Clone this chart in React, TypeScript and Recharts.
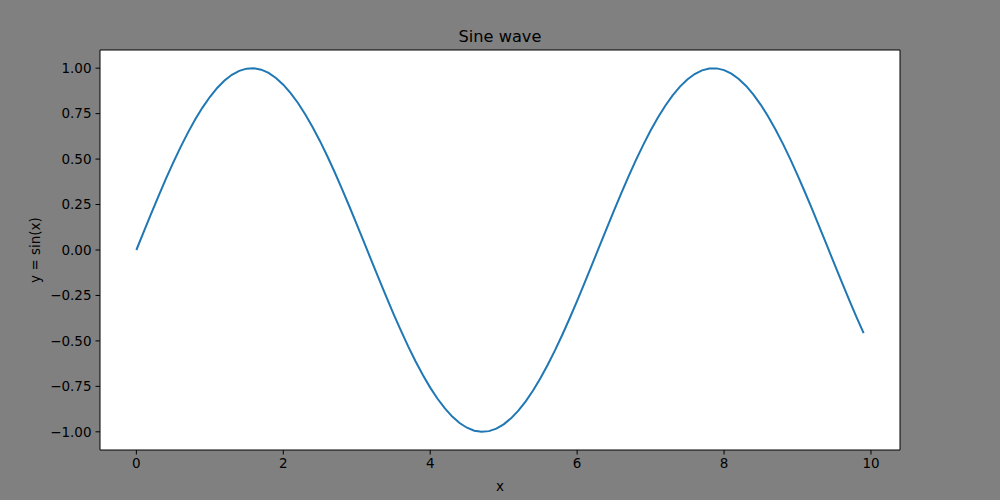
import React from 'react';
import { LineChart, Line, XAxis, YAxis, CartesianGrid, Label, ReferenceLine } from 'recharts';

const xValues: number[] = [
  0.0, 0.1, 0.2, 0.3, 0.4, 0.5, 0.6, 0.7, 0.8, 0.9,
  1.0, 1.1, 1.2, 1.3, 1.4, 1.5, 1.6, 1.7, 1.8, 1.9,
  2.0, 2.1, 2.2, 2.3, 2.4, 2.5, 2.6, 2.7, 2.8, 2.9,
  3.0, 3.1, 3.2, 3.3, 3.4, 3.5, 3.6, 3.7, 3.8, 3.9,
  4.0, 4.1, 4.2, 4.3, 4.4, 4.5, 4.6, 4.7, 4.8, 4.9,
  5.0, 5.1, 5.2, 5.3, 5.4, 5.5, 5.6, 5.7, 5.8, 5.9,
  6.0, 6.1, 6.2, 6.3, 6.4, 6.5, 6.6, 6.7, 6.8, 6.9,
  7.0, 7.1, 7.2, 7.3, 7.4, 7.5, 7.6, 7.7, 7.8, 7.9,
  8.0, 8.1, 8.2, 8.3, 8.4, 8.5, 8.6, 8.7, 8.8, 8.9,
  9.0, 9.1, 9.2, 9.3, 9.4, 9.5, 9.6, 9.7, 9.8, 9.9,
];

const yValues: number[] = [
  0.0, 0.0998, 0.1987, 0.2955, 0.3894, 0.4794, 0.5646, 0.6442, 0.7174, 0.7833,
  0.8415, 0.8912, 0.932, 0.9636, 0.9854, 0.9975, 0.9996, 0.9917, 0.9738, 0.9463,
  0.9093, 0.8632, 0.8085, 0.7457, 0.6755, 0.5985, 0.5155, 0.4274, 0.335, 0.2392,
  0.1411, 0.0416, -0.0584, -0.1577, -0.2555, -0.3508, -0.4425, -0.5298, -0.6119, -0.6878,
  -0.7568, -0.8183, -0.8716, -0.9162, -0.9516, -0.9775, -0.9937, -0.9999, -0.9962, -0.9825,
  -0.9589, -0.9258, -0.8835, -0.8323, -0.7728, -0.7055, -0.6313, -0.5507, -0.4646, -0.3739,
  -0.2794, -0.1822, -0.0831, 0.0168, 0.1165, 0.2151, 0.3115, 0.4048, 0.4941, 0.5784,
  0.657, 0.729, 0.7937, 0.8504, 0.8987, 0.938, 0.9679, 0.9882, 0.9985, 0.9989,
  0.9894, 0.9699, 0.9407, 0.9022, 0.8546, 0.7985, 0.7344, 0.663, 0.5849, 0.501,
  0.4121, 0.3191, 0.2229, 0.1245, 0.0248, -0.0752, -0.1743, -0.2718, -0.3665, -0.4575,
];

const xTicks: number[] = [0, 2, 4, 6, 8, 10];
const yTicks: number[] = [-1.0, -0.75, -0.5, -0.25, 0.0, 0.25, 0.5, 0.75, 1.0];
const xDomain: [number, number] = [-0.495, 10.395];
const yDomain: [number, number] = [-1.1, 1.1];

const title = 'Sine wave';
const xLabel = 'x';
const yLabel = 'y = sin(x)';

const data = xValues.map((x, i) => ({ x, y: yValues[i] }));

const FONT = 'DejaVu Sans, sans-serif';
const tickStyle = { fontSize: 13.5, fill: '#000', fontFamily: FONT };

const YLabelContent = (props: any) => {
  const vb = props.viewBox || {};
  const cx = vb.x + 35;
  const cy = vb.y + vb.height / 2;
  return (
    <text
      x={cx}
      y={cy}
      transform={`rotate(-90, ${cx}, ${cy})`}
      textAnchor="middle"
      dominantBaseline="central"
      fontSize={13.5}
      fontFamily={FONT}
      fill="#000"
    >
      {yLabel}
    </text>
  );
};

export default function App() {
  return (
    <div
      style={{
        position: 'absolute',
        left: 0,
        top: 0,
        width: 1000,
        height: 500,
        background: '#808080',
      }}
    >
      <div
        style={{
          position: 'absolute',
          left: 0,
          top: 27,
          width: 1000,
          textAlign: 'center',
          fontFamily: FONT,
          fontSize: 16.2,
          color: '#000',
          lineHeight: '20px',
        }}
      >
        {title}
      </div>
      <LineChart
        width={1000}
        height={500}
        data={data}
        margin={{ top: 50, right: 100, bottom: 0, left: 0 }}
      >
        <CartesianGrid fill="#ffffff" horizontal={false} vertical={false} stroke="none" />
        <XAxis
          dataKey="x"
          type="number"
          domain={xDomain}
          ticks={xTicks}
          allowDataOverflow
          height={50}
          tickSize={4.5}
          tickMargin={4}
          tick={tickStyle}
          stroke="#000"
          tickLine={{ stroke: '#000' }}
          axisLine={{ stroke: '#000' }}
        >
          <Label
            value={xLabel}
            position="insideBottom"
            offset={9}
            style={{ fontSize: 13.5, fill: '#000', fontFamily: FONT }}
          />
        </XAxis>
        <YAxis
          type="number"
          domain={yDomain}
          ticks={yTicks}
          allowDataOverflow
          width={100}
          tickSize={4.5}
          tickMargin={4}
          tick={tickStyle}
          tickFormatter={(v: number) => v.toFixed(2).replace('-', '\u2212')}
          stroke="#000"
          tickLine={{ stroke: '#000' }}
          axisLine={{ stroke: '#000' }}
        >
          <Label content={<YLabelContent />} />
        </YAxis>
        <ReferenceLine y={yDomain[1]} stroke="#000" strokeWidth={1} ifOverflow="visible" />
        <ReferenceLine x={xDomain[1]} stroke="#000" strokeWidth={1} ifOverflow="visible" />
        <Line
          type="linear"
          dataKey="y"
          stroke="#1f77b4"
          strokeWidth={2}
          dot={false}
          activeDot={false}
          isAnimationActive={false}
        />
      </LineChart>
    </div>
  );
}
